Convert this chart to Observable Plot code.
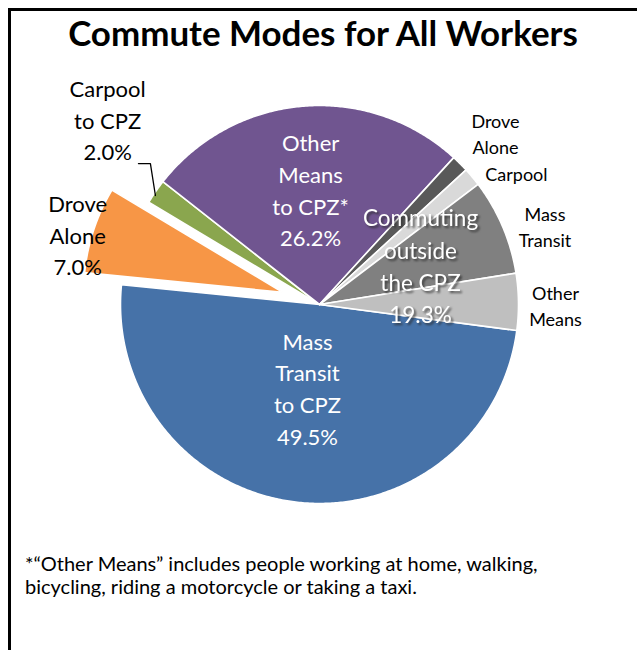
<!DOCTYPE html>
<html><head><meta charset="utf-8">
<script src="https://cdn.jsdelivr.net/npm/d3@7"></script>
<script src="https://cdn.jsdelivr.net/npm/@observablehq/plot@0.6"></script>
<style>
body{margin:0;background:#fff;font-family:Lato,"Open Sans",sans-serif;color:#000;width:637px;height:650px;overflow:hidden;position:relative;}
#frame{position:absolute;left:8px;top:8px;width:640px;height:660px;border-left:3px solid #000;border-top:3px solid #000;box-sizing:border-box;}
#title{position:absolute;left:0;top:13px;width:646px;text-align:center;font-weight:bold;font-size:31px;line-height:40px;white-space:nowrap;}
#chart{position:absolute;left:0;top:60px;}
#note{position:absolute;left:25px;top:552px;font-size:17.5px;line-height:23px;white-space:nowrap;}
</style></head>
<body>
<div id="frame"></div>
<div id="title"><span id="t1">Commute Modes for All Workers</span></div>
<div id="chart"></div>
<div id="note"><span id="n1">*“Other Means” includes people working at home, walking,</span><br><span>bicycling, riding a motorcycle or taking a taxi.</span></div>
<script>
// ---- data ----
const categories = ["Mass Transit to CPZ","Drove Alone to CPZ","Carpool to CPZ","Other Means to CPZ",
  "Drove Alone outside CPZ","Carpool outside CPZ","Mass Transit outside CPZ","Other Means outside CPZ"];
const shares = [49.5, 7.0, 2.0, 26.2, 1.4, 1.5, 7.8, 4.6];
const colors = ["#4672a8","#f79646","#8aa64e","#705590","#595959","#d9d9d9","#808080","#bfbfbf"];
const explode = [0, 0.195, 0, 0, 0, 0, 0, 0];
const labelText = ["Mass\nTransit\nto CPZ\n49.5%","Drove\nAlone\n7.0%","Carpool\nto CPZ\n2.0%","Other\nMeans\nto CPZ*\n26.2%",
  "Drove\nAlone","Carpool","Mass\nTransit","Other\nMeans"];
const groupText = "Commuting\noutside\nthe CPZ\n19.3%";
const startAngle = 97.5;

// ---- label layout (polar, relative to slice mid-angle) ----
const labelR     = [0.42, 1.267, 1.417, 0.585, 1.235, 1.19, 1.2, 1.186];
const labelShift = [1.7, -1.9, 6.8, 0.35, 0.8, 6.1, 3.85, 0.9];
const labelInside = [true,false,false,true,false,false,false,false];
const labelBig   = [true,true,true,true,false,false,false,false];

const R = 199, cx = 319, cy = 244, W = 637, H = 460;
const rad = d => d * Math.PI / 180;
const polar = (deg, r, o = [0,0]) => ({x: o[0] + r * Math.sin(rad(deg)), y: o[1] + r * Math.cos(rad(deg))});

// slice geometry
const total = d3.sum(shares);
let acc = startAngle;
const slices = shares.map((v, i) => {
  const a0 = acc, a1 = acc + v / total * 360; acc = a1;
  const mid = (a0 + a1) / 2;
  const o = polar(mid, explode[i]);
  return {i, a0, a1, mid, o: [o.x, o.y]};
});
const slicePts = [];
for (const s of slices) {
  slicePts.push({slice: s.i, ...polar(0, 0, s.o)});
  const n = Math.max(2, Math.ceil((s.a1 - s.a0) / 0.5));
  for (let k = 0; k <= n; k++) slicePts.push({slice: s.i, ...polar(s.a0 + (s.a1 - s.a0) * k / n, 1, s.o)});
}

const labels = slices.map(s => ({text: labelText[s.i], inside: labelInside[s.i], big: labelBig[s.i],
  ...polar(s.mid + labelShift[s.i], labelR[s.i])}));
const grpMid = (slices[4].a0 + slices[7].a1) / 2;
const grp = [{text: groupText, ...polar(grpMid - 1.6, 0.546)}];
const gm = slices[2].mid;
const leader = [polar(gm + 3.4, 1.153), polar(gm + 5.3, 1.106), polar(gm - 0.9, 0.99)];

const font = "Lato, 'Open Sans', sans-serif";
const marks = slices.map(s => Plot.line(slicePts.filter(p => p.slice === s.i),
  {x: "x", y: "y", curve: "linear-closed", fill: colors[s.i], stroke: "#fff", strokeWidth: 1.6, strokeLinejoin: "round"}));
marks.push(Plot.line(leader, {x: "x", y: "y", stroke: "#000", strokeWidth: 1.3}));
marks.push(Plot.text(labels.filter(d => d.big), {x: "x", y: "y", text: "text", fontSize: 22, lineHeight: 1.45,
  fill: d => d.inside ? "#fff" : "#000", fontFamily: font}));
marks.push(Plot.text(labels.filter(d => !d.big), {x: "x", y: "y", text: "text", fontSize: 18, lineHeight: 1.42,
  fill: "#000", fontFamily: font}));
marks.push(Plot.text(grp, {x: "x", y: "y", text: "text", fontSize: 22.5, lineHeight: 1.43, fill: "#fff", fontFamily: font}));

const chart = Plot.plot({
  width: W, height: H, margin: 0,
  x: {domain: [-cx / R, (W - cx) / R], axis: null},
  y: {domain: [-(H - cy) / R, cy / R], axis: null},
  style: {background: "transparent", overflow: "visible"},
  marks
});
// shadowed group label (last text mark)
const textGroups = chart.querySelectorAll('g[aria-label="text"]');
textGroups[textGroups.length - 1].style.filter = "drop-shadow(2px 2px 1px rgba(40,40,40,0.75))";
document.getElementById("chart").appendChild(chart);

// fit title and footnote widths to the reference
(function(){
  const t = document.getElementById("title"), s = document.getElementById("t1");
  t.style.fontSize = (31 * 510 / s.getBoundingClientRect().width) + "px";
  const n1 = document.getElementById("n1");
  document.getElementById("note").style.fontSize = (17.5 * 513 / n1.getBoundingClientRect().width) + "px";
})();
</script>
</body></html>
